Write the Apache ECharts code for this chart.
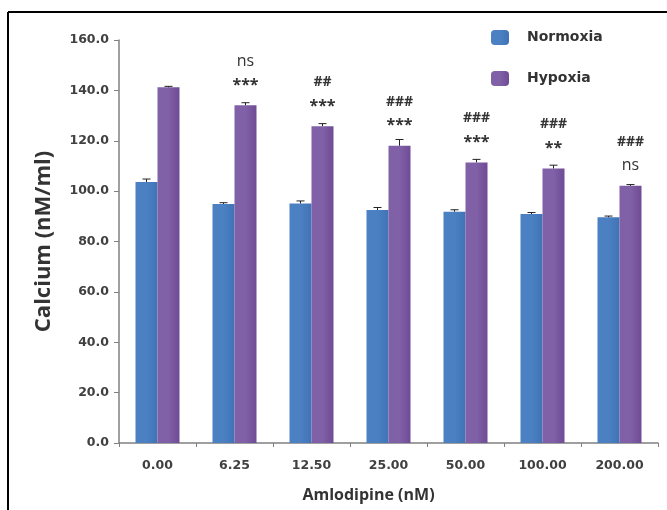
<!DOCTYPE html>
<html>
<head>
<meta charset="utf-8">
<script src="https://cdn.jsdelivr.net/npm/echarts@6/dist/echarts.min.js"></script>
<style>
html,body{margin:0;padding:0;background:#fff;}
#c{width:667px;height:510px;}
</style>
</head>
<body>
<div id="c"></div>
<script>
var categories = ['0.00', '6.25', '12.50', '25.00', '50.00', '100.00', '200.00'];
var normoxia = [103.6, 94.9, 95.1, 92.5, 91.8, 90.9, 89.6];
var hypoxia = [141.2, 134.1, 125.8, 118.0, 111.4, 109.0, 102.1];
var normoxiaErr = [1.2, 0.5, 1.0, 1.0, 0.8, 0.6, 0.5];
var hypoxiaErr = [0.4, 1.0, 1.0, 2.5, 1.2, 1.3, 0.5];
var annotations = ['', 'ns\n***', '##\n***', '###\n***', '###\n***', '###\n**', '###\nns'];
var yTicks = [0, 20, 40, 60, 80, 100, 120, 140, 160];

var chart = echarts.init(document.getElementById('c'));
var FONT = '"Open Sans", "DejaVu Sans", sans-serif';
var TICKFONT = '"DejaVu Sans", sans-serif';
var BAR_W = 22;

function errSeries(name, values, errs, offset) {
  return {
    type: 'custom',
    name: name + ' err',
    z: 5,
    silent: true,
    data: values.map(function (v, i) { return [i, v, errs[i]]; }),
    renderItem: function (params, api) {
      var i = api.value(0), v = api.value(1), e = api.value(2);
      var p0 = api.coord([i, v]);
      var p1 = api.coord([i, v + e]);
      var x = p0[0] + offset;
      return {
        type: 'group',
        children: [
          { type: 'line', shape: { x1: x, y1: p0[1], x2: x, y2: p1[1] }, style: { stroke: '#222', lineWidth: 1 } },
          { type: 'line', shape: { x1: x - 4, y1: p1[1], x2: x + 4, y2: p1[1] }, style: { stroke: '#222', lineWidth: 1 } }
        ]
      };
    }
  };
}

function grad(edge, mid) {
  return new echarts.graphic.LinearGradient(0, 0, 1, 0, [
    { offset: 0, color: mid },
    { offset: 0.5, color: mid },
    { offset: 1, color: edge }
  ]);
}

function annotFormatter(p) {
  var txt = annotations[p.dataIndex];
  if (!txt) return '';
  return txt.split('\n').map(function (line) {
    if (line.charAt(0) === '#') return '{h|' + line + '}';
    if (line.charAt(0) === '*') return '{s|' + line + '}';
    return '{n|' + line + '}';
  }).join('\n');
}

chart.setOption({
  backgroundColor: '#fff',
  animation: false,
  graphic: [
    { type: 'line', shape: { x1: 8, y1: 12, x2: 667, y2: 12 }, style: { stroke: '#000', lineWidth: 2 } },
    { type: 'line', shape: { x1: 8, y1: 12, x2: 8, y2: 510 }, style: { stroke: '#000', lineWidth: 2 } }
  ],
  legend: {
    orient: 'vertical',
    left: 486,
    top: 25,
    itemWidth: 18,
    itemHeight: 15,
    itemGap: 26,
    data: ['Normoxia', 'Hypoxia'],
    textStyle: { fontFamily: TICKFONT, fontWeight: 'bold', fontSize: 14, color: '#333', padding: [0, 0, 0, 13] }
  },
  grid: { left: 119, right: 9, top: 40, bottom: 67 },
  xAxis: {
    type: 'category',
    data: categories,
    name: 'Amlodipine (nM)',
    nameLocation: 'middle',
    nameGap: 44,
    nameTextStyle: { fontFamily: FONT, fontWeight: 'bold', fontSize: 16, color: '#333', padding: [0, 40, 0, 0] },
    axisLine: { lineStyle: { color: '#808080', width: 1.5 } },
    axisTick: { show: true, length: 4, lineStyle: { color: '#808080' } },
    axisLabel: { fontFamily: TICKFONT, fontWeight: 'bold', fontSize: 12.5, color: '#404040', margin: 16 }
  },
  yAxis: {
    type: 'value',
    min: yTicks[0],
    max: yTicks[yTicks.length - 1],
    interval: 20,
    name: 'Calcium (nM/ml)',
    nameLocation: 'middle',
    nameGap: 64,
    nameTextStyle: { fontFamily: FONT, fontWeight: 'bold', fontSize: 22, color: '#333' },
    splitLine: { show: false },
    axisLine: { show: true, lineStyle: { color: '#808080', width: 1.5 } },
    axisTick: { show: true, length: 5, lineStyle: { color: '#808080' } },
    axisLabel: {
      fontFamily: TICKFONT, fontWeight: 'bold', fontSize: 12.5, color: '#404040', margin: 10,
      formatter: function (v) { return v.toFixed(1); }
    }
  },
  series: [
    {
      name: 'Normoxia',
      type: 'bar',
      data: normoxia,
      barWidth: BAR_W,
      barGap: '0%',
      itemStyle: { color: grad('#3f73b5', '#4b80c2') }
    },
    {
      name: 'Hypoxia',
      type: 'bar',
      data: hypoxia,
      barWidth: BAR_W,
      barGap: '0%',
      itemStyle: { color: grad('#6f4c95', '#8060a6') },
      label: {
        show: true,
        position: 'top',
        distance: 8,
        align: 'center',
        color: '#333',
        formatter: annotFormatter,
        rich: {
          h: { fontFamily: FONT, fontWeight: 'bold', fontSize: 14, lineHeight: 24, color: '#333' },
          s: { fontFamily: FONT, fontWeight: 'bold', fontSize: 16, lineHeight: 24, color: '#333' },
          n: { fontFamily: FONT, fontSize: 16, lineHeight: 24, color: '#333' }
        }
      }
    },
    errSeries('Normoxia', normoxia, normoxiaErr, -BAR_W / 2),
    errSeries('Hypoxia', hypoxia, hypoxiaErr, BAR_W / 2)
  ]
});
</script>
</body>
</html>
